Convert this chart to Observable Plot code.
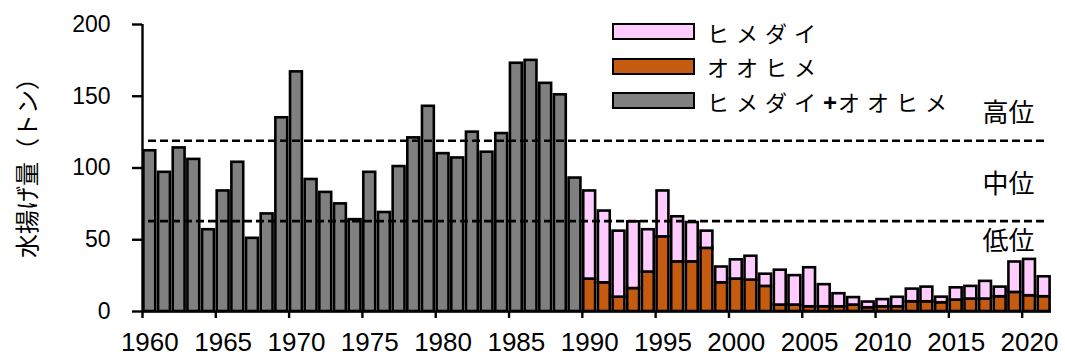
<!DOCTYPE html>
<html><head><meta charset="utf-8">
<script src="https://cdn.jsdelivr.net/npm/d3@7"></script>
<script src="https://cdn.jsdelivr.net/npm/@observablehq/plot@0.6"></script>
<style>
body{margin:0;background:#fff;}
#wrap{position:relative;width:1065px;height:357px;}
.lg{position:absolute;left:612px;height:17px;display:flex;align-items:center;font-family:"Noto Sans CJK JP",sans-serif;font-size:22px;letter-spacing:7px;color:#000;white-space:nowrap;}
.lg b{font-family:"Liberation Sans",Arial,sans-serif;font-weight:bold;font-size:24px;letter-spacing:1px;}
.sw{box-sizing:border-box;width:83px;height:17px;border:2.5px solid #000;margin-right:12px;flex:none;}
</style></head><body><div id="wrap"></div>
<script>
// 1960-1989: combined catch (ヒメダイ+オオヒメ)
const yearsCombined = d3.range(1960, 1990);
const combined = [112, 97, 114, 106, 57, 84, 104, 51, 68, 135, 167, 92, 83, 75, 64, 97, 69, 101, 121, 143, 110, 107, 125, 111, 124, 173, 175, 159, 151, 93];
// 1990-2021: separate species
const yearsSplit = d3.range(1990, 2022);
const oohime = [22.6, 20, 10, 16, 27.5, 52, 34.6, 34.6, 44, 20, 22.6, 21.9, 17.5, 4.5, 4.5, 3.3, 3.3, 3.3, 4.5, 2.6, 3.3, 3.3, 6.8, 6.8, 6.1, 8, 8.7, 8.7, 10.3, 13.3, 11, 10.3];
const himedai = [61.4, 50, 46, 46.5, 29.5, 32, 31.4, 27.4, 12, 11, 13.4, 16.6, 8.5, 24.3, 20.5, 27.2, 15.4, 9.1, 5.2, 4, 5, 6.6, 8.8, 10.2, 3.9, 8.5, 8.8, 12.3, 6.7, 21.2, 25.3, 13.9];
const seriesNames = ["ヒメダイ", "オオヒメ", "ヒメダイ+オオヒメ"];
const seriesColors = ["#FFCCFF", "#C55A11", "#808080"];
const yTicks = [0, 50, 100, 150, 200];
const xTicks = d3.range(1960, 2021, 5);
const thresholds = [63, 119];
const levelNames = ["低位", "中位", "高位"];
const yTitle = "水揚げ量（トン）";

const grayRows = yearsCombined.map((y, i) => ({year: y, value: combined[i]}));
const stackRows = [
  ...yearsSplit.map((y, i) => ({year: y, value: oohime[i], s: seriesNames[1]})),
  ...yearsSplit.map((y, i) => ({year: y, value: himedai[i], s: seriesNames[0]}))
];
const levelRows = [
  {t: levelNames[0], y: thresholds[0] - 14},
  {t: levelNames[1], y: (thresholds[0] + thresholds[1]) / 2 - 2.5},
  {t: levelNames[2], y: thresholds[1] + 19}
];
const colorOf = new Map(seriesNames.map((n, i) => [n, seriesColors[i]]));

const chart = Plot.plot({
  width: 1065, height: 357,
  marginLeft: 142, marginRight: 14, marginTop: 24, marginBottom: 46,
  style: {fontFamily: "Liberation Sans, Arial, sans-serif", color: "#000", background: "#fff"},
  x: {type: "linear", domain: [1960, 2022]},
  y: {domain: [0, 200]},
  marks: [
    Plot.rectY(grayRows, {x1: "year", x2: d => d.year + 1, y: "value", fill: seriesColors[2], stroke: "#000", strokeWidth: 2.6, insetLeft: 1.4, insetRight: 1.4}),
    Plot.rectY(stackRows, {x1: "year", x2: d => d.year + 1, y: "value", z: "s", fill: d => colorOf.get(d.s), stroke: "#000", strokeWidth: 2.6, insetLeft: 1.4, insetRight: 1.4}),
    Plot.ruleY(thresholds, {x1: 1960, x2: 2022, insetLeft: 6, insetRight: 4, stroke: "#000", strokeWidth: 2.6, strokeDasharray: "8,4"}),
    Plot.text(levelRows, {frameAnchor: "right", dx: -43, y: "y", text: "t", textAnchor: "middle", fontSize: 26, fontFamily: "Noto Sans CJK JP", fill: "#000"}),
    Plot.ruleX([1960], {y1: 0, y2: 200, stroke: "#000", strokeWidth: 2.4}),
    Plot.ruleY([0], {stroke: "#000", strokeWidth: 2.4}),
    Plot.axisY({ticks: yTicks, tickSize: 10, tickPadding: 22, fontSize: 23, strokeWidth: 2.4, label: null}),
    Plot.axisX({ticks: xTicks, tickSize: 7, tickFormat: () => "", strokeWidth: 2.4, label: null}),
    Plot.axisX({ticks: xTicks.map(d => d + 0.5), tickSize: 0, tickPadding: 21, fontSize: 26, tickFormat: d => String(Math.round(d - 0.5)), label: null}),
    Plot.text([yTitle], {frameAnchor: "left", dx: -114, dy: -6, rotate: -90, textAnchor: "middle", fontSize: 24, fontFamily: "Noto Sans CJK JP", fill: "#000"})
  ]
});
const wrap = document.getElementById("wrap");
wrap.appendChild(chart);
seriesNames.forEach((n, i) => {
  const row = document.createElement("div");
  row.className = "lg";
  row.style.top = (23 + 34.5 * i) + "px";
  const sw = document.createElement("div");
  sw.className = "sw";
  sw.style.background = seriesColors[i];
  const tx = document.createElement("span");
  n.split("+").forEach((part, j) => {
    if (j > 0) { const b = document.createElement("b"); b.textContent = "+"; tx.appendChild(b); }
    tx.appendChild(document.createTextNode(part));
  });
  row.appendChild(sw); row.appendChild(tx);
  wrap.appendChild(row);
});
</script></body></html>
